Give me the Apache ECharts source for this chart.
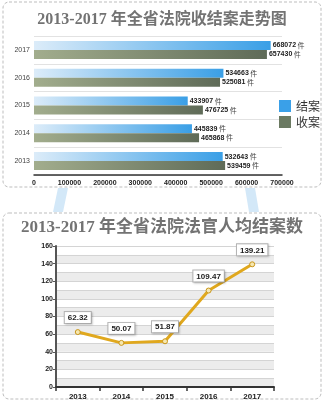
<!DOCTYPE html>
<html><head><meta charset="utf-8">
<script src="https://cdn.jsdelivr.net/npm/echarts@6/dist/echarts.min.js"></script>
<style>html,body{margin:0;padding:0;background:#fff}#c{width:324px;height:410px}</style>
</head><body><div id="c"></div>
<script>
var years = ['2013', '2014', '2015', '2016', '2017'];
var closedCases = [532643, 445839, 433907, 534663, 668072];   // 结案
var filedCases = [539459, 465868, 476725, 525081, 657430];    // 收案
var barTicks = [0, 100000, 200000, 300000, 400000, 500000, 600000, 700000];
var perJudge = [62.32, 50.07, 51.87, 109.47, 139.21];
var lineTicks = [0, 20, 40, 60, 80, 100, 120, 140, 160];

var chart = echarts.init(document.getElementById('c'), null, {renderer: 'canvas'});
var titleFont = '"Liberation Serif","DejaVu Serif","Noto Sans CJK SC",serif';
var labelRich = {
  n: {fontSize: 7, fontWeight: 'bold', color: '#222', fontFamily: 'Arial, "Liberation Sans"'},
  u: {fontSize: 7, color: '#444', fontFamily: '"Noto Sans CJK SC"'}
};
function barLabel(p) { return '{n|' + p.value + '}{u| 件}'; }

var option = {
  animation: false,
  backgroundColor: '#fff',
  graphic: [
    {type: 'rect', shape: {x: 3, y: 2, width: 318, height: 185, r: 6}, style: {fill: 'none', stroke: '#bdbdbd', lineWidth: 1, lineDash: [3, 2]}, z: -10},
    {type: 'rect', shape: {x: 3, y: 213, width: 318, height: 186, r: 6}, style: {fill: 'none', stroke: '#bdbdbd', lineWidth: 1, lineDash: [3, 2]}, z: -10},
    {type: 'polygon', shape: {points: [[58, 188], [68, 188], [63, 212], [53, 212]]}, style: {fill: '#d3e8f8'}, z: -11},
    {type: 'polygon', shape: {points: [[245, 188], [255, 188], [259, 212], [249, 212]]}, style: {fill: '#d3e8f8'}, z: -11},
    {type: 'text', left: 'center', top: 12, style: {text: '2013-2017 年全省法院收结案走势图', font: 'bold 16px ' + titleFont, fill: '#737373'}},
    {type: 'text', left: 'center', top: 219, style: {text: '2013-2017 年全省法院法官人均结案数', font: 'bold 17px ' + titleFont, fill: '#737373'}}
  ],
  legend: {
    data: [{name: '结案', itemStyle: {color: '#3aa0e8'}}, {name: '收案', itemStyle: {color: '#6b7a62'}}],
    orient: 'vertical', left: 274, top: 95,
    itemWidth: 12, itemHeight: 12, itemGap: 4,
    textStyle: {fontSize: 12, color: '#333', fontFamily: '"Noto Sans CJK SC"'},
    icon: 'rect'
  },
  grid: [
    {left: 34, right: 42, top: 36, bottom: 235},
    {left: 56, right: 50, top: 246, bottom: 23}
  ],
  xAxis: [
    {type: 'value', gridIndex: 0, min: 0, max: 700000, interval: 100000,
      axisLine: {show: true, lineStyle: {color: '#333', width: 1.5}},
      axisTick: {show: false}, splitLine: {show: false},
      axisLabel: {fontSize: 7, fontWeight: 'bold', color: '#222', margin: 5, fontFamily: 'Arial',
        formatter: function (v) { return String(v); }}},
    {type: 'category', gridIndex: 1, data: years, boundaryGap: true,
      axisLine: {lineStyle: {color: '#333', width: 2}},
      axisTick: {show: true, length: 4, lineStyle: {color: '#333', width: 1.5}},
      axisLabel: {fontSize: 8, fontWeight: 'bold', color: '#222', margin: 6, fontFamily: 'Arial'}}
  ],
  yAxis: [
    {type: 'category', gridIndex: 0, data: years,
      axisLine: {show: false}, axisTick: {show: false},
      splitLine: {show: true, lineStyle: {color: '#e2e2e2', width: 1}},
      axisLabel: {fontSize: 7, color: '#444', margin: 4, fontFamily: 'Arial'}},
    {type: 'value', gridIndex: 1, min: 0, max: 160, interval: 20,
      axisLine: {show: true, lineStyle: {color: '#555', width: 2}},
      axisTick: {show: true, length: 3, lineStyle: {color: '#555'}},
      splitLine: {show: false},
      axisLabel: {fontSize: 7, fontWeight: 'bold', color: '#222', margin: 3, fontFamily: 'Arial'}},
    {type: 'value', gridIndex: 1, min: 0, max: 160, interval: 10, position: 'left',
      axisLine: {show: false}, axisTick: {show: false}, axisLabel: {show: false},
      splitLine: {show: true, lineStyle: {color: '#d4d4d4', width: 1}},
      splitArea: {show: true, areaStyle: {color: ['#ececec', '#ffffff']}}}
  ],
  series: [
    {name: '结案', type: 'bar', xAxisIndex: 0, yAxisIndex: 0, data: closedCases,
      barWidth: 9, barGap: '0%', color: '#3aa0e8',
      itemStyle: {color: new echarts.graphic.LinearGradient(0, 0, 1, 0, [{offset: 0, color: '#dcecf9'}, {offset: 1, color: '#3a9fe6'}])},
      label: {show: true, position: 'right', distance: 2, formatter: barLabel, rich: labelRich}},
    {name: '收案', type: 'bar', xAxisIndex: 0, yAxisIndex: 0, data: filedCases,
      barWidth: 9, barGap: '0%', color: '#6b7a62',
      itemStyle: {color: new echarts.graphic.LinearGradient(0, 0, 1, 0, [{offset: 0, color: '#a2ad8d'}, {offset: 1, color: '#5f6b58'}])},
      label: {show: true, position: 'right', distance: 2, formatter: barLabel, rich: labelRich}},
    {name: 'perJudge', type: 'line', xAxisIndex: 1, yAxisIndex: 1, data: perJudge,
      lineStyle: {color: '#e0a81e', width: 3},
      itemStyle: {color: '#f6e7b0', borderColor: '#c9961a', borderWidth: 1},
      symbol: 'circle', symbolSize: 5,
      label: {show: true, position: 'top', distance: 6, backgroundColor: '#fff', borderColor: '#b5b5b5', borderWidth: 1,
        padding: [2, 3, 1, 3], fontSize: 8, fontWeight: 'bold', color: '#222', fontFamily: 'Arial',
        shadowColor: 'rgba(0,0,0,0.15)', shadowBlur: 2, shadowOffsetX: 1, shadowOffsetY: 1}}
  ]
};
chart.setOption(option);
</script></body></html>
